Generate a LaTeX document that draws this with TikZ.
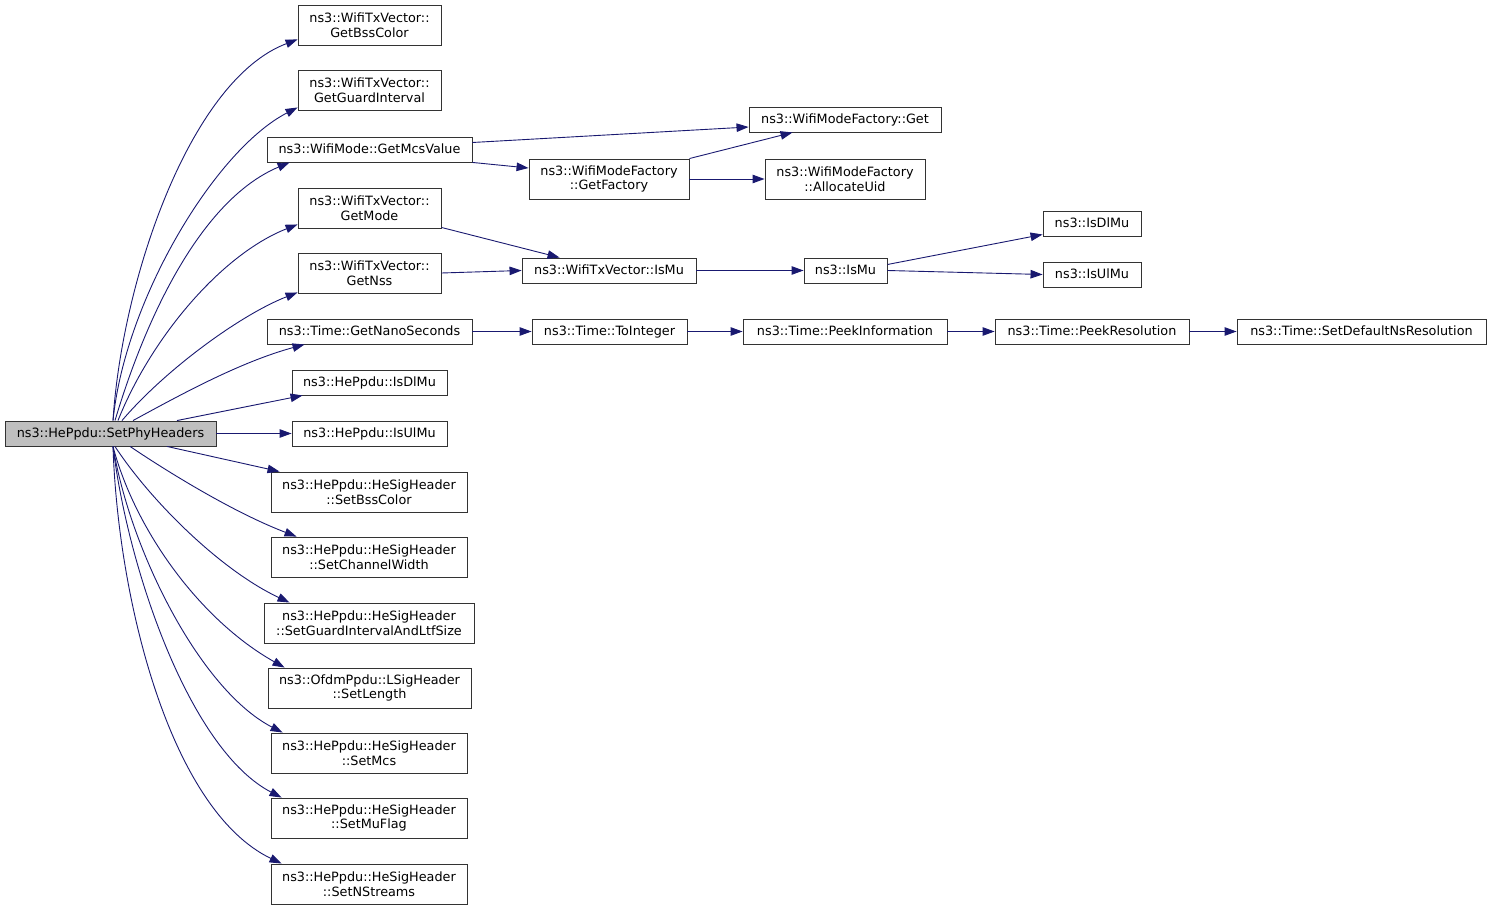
\documentclass[tikz,border=0pt]{standalone}
\usepackage{fontspec}
\newfontfamily\dv{DejaVu Sans}
\usetikzlibrary{arrows.meta}
\definecolor{edgec}{HTML}{191970}
\definecolor{boxc}{HTML}{333333}
\definecolor{grayfill}{HTML}{BFBFBF}
\tikzset{
  box/.style={draw=boxc, fill=white, line width=0.9pt, font=\dv\fontsize{12.8}{14.5}\selectfont, align=center, inner sep=0pt},
  one/.style={box, text height=10.5pt, text depth=2.5pt, minimum height=25},
  two/.style={box, minimum height=40},
  e/.style={draw=edgec, line width=0.9pt, -{Triangle[length=12pt,width=8.5pt]}, fill=none}
}
\begin{document}
\begin{tikzpicture}[x=1pt,y=-1pt]
\useasboundingbox (0,0) rectangle (1491,909);
% left source
\node[one, fill=grayfill, minimum width=211] (phy) at (110.5,433.5) {ns3::HePpdu::SetPhyHeaders};
% column 1
\node[two, minimum width=143] (bss) at (369.5,25) {ns3::WifiTxVector::\\GetBssColor};
\node[two, minimum width=143] (guard) at (369.5,90) {ns3::WifiTxVector::\\GetGuardInterval};
\node[one, minimum width=205] (mcsv) at (369.5,149.5) {ns3::WifiMode::GetMcsValue};
\node[two, minimum width=143] (mode) at (369.5,208) {ns3::WifiTxVector::\\GetMode};
\node[two, minimum width=143] (nss) at (369.5,273) {ns3::WifiTxVector::\\GetNss};
\node[one, minimum width=205] (nano) at (369.5,331.5) {ns3::Time::GetNanoSeconds};
\node[one, minimum width=155] (hdl) at (369.5,382.5) {ns3::HePpdu::IsDlMu};
\node[one, minimum width=155] (hul) at (369.5,433.5) {ns3::HePpdu::IsUlMu};
\node[two, minimum width=196] (sbss) at (369,492) {ns3::HePpdu::HeSigHeader\\::SetBssColor};
\node[two, minimum width=196] (chan) at (369,557) {ns3::HePpdu::HeSigHeader\\::SetChannelWidth};
\node[two, minimum width=210] (gia) at (369,623) {ns3::HePpdu::HeSigHeader\\::SetGuardIntervalAndLtfSize};
\node[two, minimum width=203] (len) at (369.5,688) {ns3::OfdmPpdu::LSigHeader\\::SetLength};
\node[two, minimum width=196] (smcs) at (369,753) {ns3::HePpdu::HeSigHeader\\::SetMcs};
\node[two, minimum width=196] (muf) at (369,818) {ns3::HePpdu::HeSigHeader\\::SetMuFlag};
\node[two, minimum width=196] (nstr) at (369,884) {ns3::HePpdu::HeSigHeader\\::SetNStreams};
% column 2
\node[two, minimum width=160] (fact) at (609,179) {ns3::WifiModeFactory\\::GetFactory};
\node[one, minimum width=174] (txmu) at (609,270.5) {ns3::WifiTxVector::IsMu};
\node[one, minimum width=155] (toint) at (609.5,331.5) {ns3::Time::ToInteger};
% column 3
\node[one, minimum width=192] (fget) at (845,119.5) {ns3::WifiModeFactory::Get};
\node[two, minimum width=160] (alloc) at (845,179) {ns3::WifiModeFactory\\::AllocateUid};
\node[one, minimum width=83] (ismu) at (845.5,270.5) {ns3::IsMu};
\node[one, minimum width=204] (pinf) at (845,331.5) {ns3::Time::PeekInformation};
% column 4
\node[one, minimum width=98] (dlmu) at (1092,223.5) {ns3::IsDlMu};
\node[one, minimum width=98] (ulmu) at (1092,274.5) {ns3::IsUlMu};
\node[one, minimum width=194] (pres) at (1092,331.5) {ns3::Time::PeekResolution};
% column 5
\node[one, minimum width=249] (sdef) at (1361.5,331.5) {ns3::Time::SetDefaultNsResolution};

% edges from SetPhyHeaders (upper)
\draw[e] ([xshift=2.5]phy.north) .. controls (122,280) and (190,80) .. ([yshift=6]bss.south west);
\draw[e] ([xshift=2.5]phy.north) .. controls (125,300) and (215,150) .. ([yshift=3]guard.south west);
\draw[e] ([xshift=4.5]phy.north) .. controls (145,320) and (200,200) .. ([xshift=23]mcsv.south west);
\draw[e] ([xshift=7.5]phy.north) .. controls (150,340) and (220,255) .. ([yshift=4]mode.south west);
\draw[e] ([xshift=11.5]phy.north) .. controls (165,370) and (240,315) .. ([yshift=1]nss.south west);
\draw[e] ([xshift=22.5]phy.north) .. controls (180,395) and (240,362) .. ([xshift=38]nano.south west);
\draw[e] ([xshift=66.5]phy.north) -- ([xshift=11]hdl.south west);
\draw[e] (phy.east) -- (hul.west);
% lower
\draw[e] ([xshift=56.5]phy.south) -- ([xshift=9]sbss.north west);
\draw[e] ([xshift=19.5]phy.south) .. controls (180,480) and (240,515) .. ([xshift=26]chan.north west);
\draw[e] ([xshift=4.5]phy.south) .. controls (150,500) and (220,570) .. ([xshift=26]gia.north west);
\draw[e] ([xshift=2.5]phy.south) .. controls (135,530) and (200,620) .. ([xshift=17]len.north west);
\draw[e] ([xshift=2.5]phy.south) .. controls (130,550) and (200,690) .. ([xshift=12]smcs.north west);
\draw[e] ([xshift=2.5]phy.south) .. controls (128,570) and (190,750) .. ([xshift=11]muf.north west);
\draw[e] ([xshift=2.5]phy.south) .. controls (118,600) and (170,810) .. ([xshift=11]nstr.north west);

% right part
\draw[e] ([yshift=7]mcsv.east) -- ([yshift=-7.5]fget.west);
\draw[e] (mcsv.south east) -- ([yshift=11]fact.west);
\draw[e] (fact.north east) -- ([xshift=44]fget.south west);
\draw[e] (fact.east) -- (alloc.west);
\draw[e] ([yshift=1]mode.south east) -- ([xshift=38]txmu.north west);
\draw[e] (nss.east) -- (txmu.west);
\draw[e] (txmu.east) -- (ismu.west);
\draw[e] ([yshift=6]ismu.east) -- ([yshift=-11]dlmu.west);
\draw[e] (ismu.east) -- (ulmu.west);
\draw[e] (nano.east) -- (toint.west);
\draw[e] (toint.east) -- (pinf.west);
\draw[e] (pinf.east) -- (pres.west);
\draw[e] (pres.east) -- (sdef.west);
\end{tikzpicture}
\end{document}
